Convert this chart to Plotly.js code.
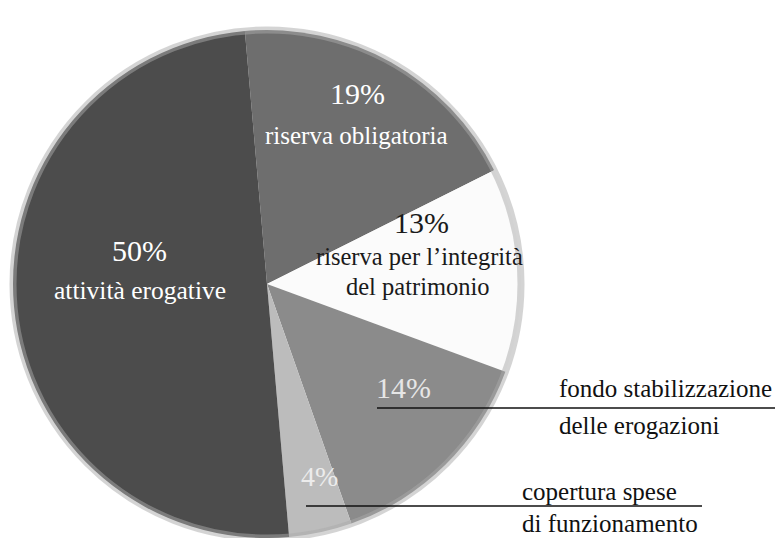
<!DOCTYPE html>
<html>
<head>
<meta charset="utf-8">
<script src="https://cdn.plot.ly/plotly-3.0.1.min.js"></script>
<style>html,body{margin:0;padding:0;background:#fff;}#chart{width:775px;height:538px;}</style>
</head>
<body>
<div id="chart"></div>
<script>
// Data (clockwise from the top)
const categories = ["riserva obligatoria", "riserva per l’integrità del patrimonio", "fondo stabilizzazione delle erogazioni", "copertura spese di funzionamento", "attività erogative"];
const values = [19, 13, 14, 4, 50];
const labelLines = [
  ["riserva obligatoria"],
  ["riserva per l’integrità", "del patrimonio"],
  ["fondo stabilizzazione", "delle erogazioni"],
  ["copertura spese", "di funzionamento"],
  ["attività erogative"]
];
const sliceColors = ["#6e6e6e", "#fbfbfb", "#8b8b8b", "#bcbcbc", "#4c4c4c"];

const W = 775, H = 538;
const cx = 267, cy = 284, R = 254;
const dom = {x: [(cx - R) / W, (cx + R) / W], y: [(H - cy - R) / H, (H - cy + R) / H]};

function px(x) { return x / W; }
function py(y) { return 1 - y / H; }

const serif = "'Liberation Serif', 'Times New Roman', Times, 'DejaVu Serif', serif";

// label placement (pixel centres) and styles
const pctPos = [[357, 93], [421, 222], [403, 387], [319, 476], [139, 250]];
const pctColor = ["#ffffff", "#1a1a1a", "#e6e6e6", "#ececec", "#ffffff"];
const pctSize = [30, 30, 30, 28, 30];
const linePos = [
  [[356, 135]],
  [[419, 257], [418, 286]],
  [[557, 388, "left"], [557, 425, "left"]],
  [[520, 492, "left"], [520, 523, "left"]],
  [[140, 290]]
];
const lineColor = ["#ffffff", "#1a1a1a", "#111111", "#111111", "#ffffff"];
const lineSize = [25, 24.5, 25, 25, 25.5];

const annotations = [];
values.forEach((v, i) => {
  annotations.push({
    x: px(pctPos[i][0]), y: py(pctPos[i][1]), xref: "paper", yref: "paper",
    text: v + "%", showarrow: false, xanchor: "center", yanchor: "middle",
    font: {family: serif, size: pctSize[i], color: pctColor[i]}
  });
  labelLines[i].forEach((t, j) => {
    const p = linePos[i][j];
    annotations.push({
      x: px(p[0]), y: py(p[1]), xref: "paper", yref: "paper",
      text: t, showarrow: false, xanchor: p[2] || "center", yanchor: "middle",
      font: {family: serif, size: lineSize[i], color: lineColor[i]}
    });
  });
});

const shapes = [
  {type: "circle", xref: "paper", yref: "paper", x0: dom.x[0], x1: dom.x[1], y0: dom.y[0], y1: dom.y[1],
   line: {color: "rgba(170,170,170,0.5)", width: 7}, fillcolor: "rgba(0,0,0,0)"},
  {type: "line", xref: "paper", yref: "paper", x0: px(377), x1: px(775), y0: py(408), y1: py(408),
   line: {color: "#111", width: 1.6}},
  {type: "line", xref: "paper", yref: "paper", x0: px(306), x1: px(702), y0: py(506), y1: py(506),
   line: {color: "#111", width: 1.6}}
];

const trace = {
  type: "pie",
  labels: categories,
  values: values,
  sort: false,
  direction: "clockwise",
  rotation: -5,
  textinfo: "none",
  hoverinfo: "label+percent",
  marker: {colors: sliceColors, line: {width: 0}},
  domain: dom,
  showlegend: false
};

Plotly.newPlot("chart", [trace], {
  width: W, height: H,
  margin: {l: 0, r: 0, t: 0, b: 0},
  paper_bgcolor: "#ffffff",
  font: {family: serif},
  showlegend: false,
  annotations: annotations,
  shapes: shapes
}, {displayModeBar: false, staticPlot: true});
</script>
</body>
</html>
